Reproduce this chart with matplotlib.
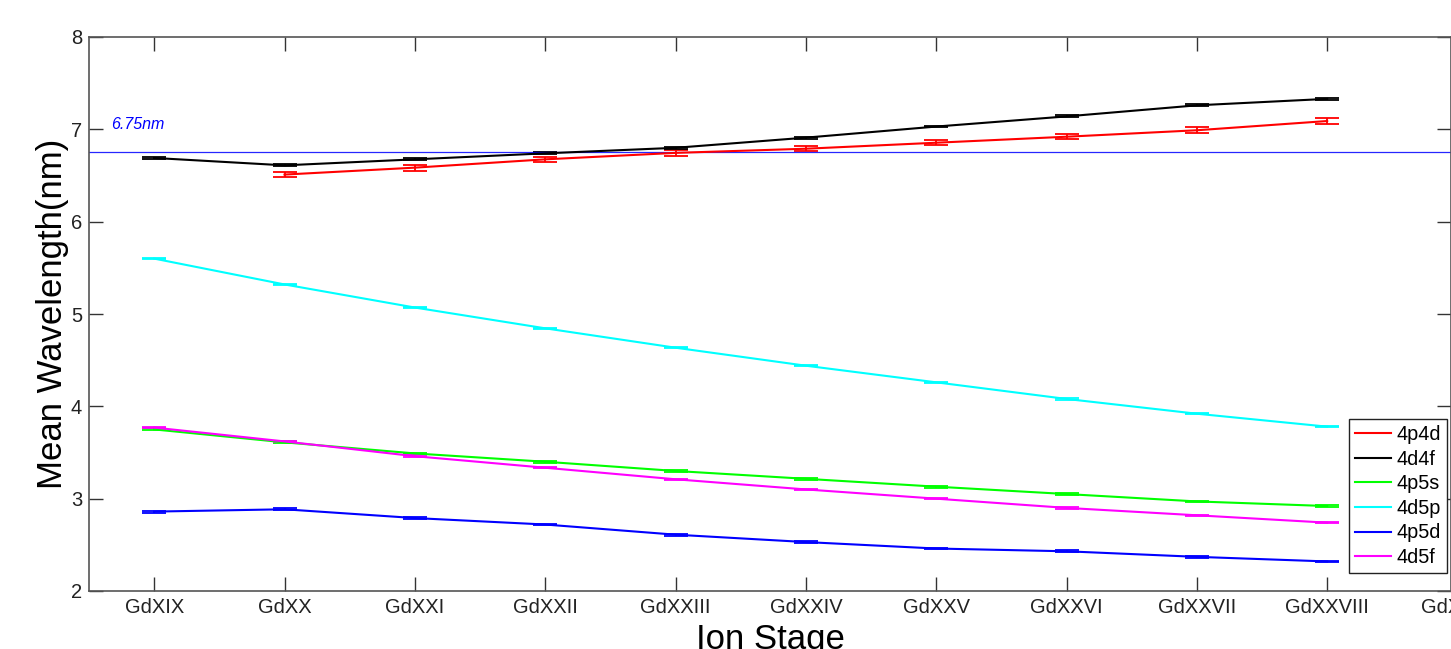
import matplotlib
matplotlib.use("Agg")
import matplotlib.pyplot as plt
import matplotlib.transforms as mtransforms
from matplotlib.lines import Line2D
import numpy as np

plt.rcParams['font.family'] = ['Liberation Sans', 'DejaVu Sans']

# ion stages on the x axis (1..10 plotted, 11 only as a cut-off tick label)
stages = ["GdXIX", "GdXX", "GdXXI", "GdXXII", "GdXXIII", "GdXXIV",
          "GdXXV", "GdXXVI", "GdXXVII", "GdXXVIII", "GdXXIX"]
x_all = np.arange(1, 11)

# mean wavelengths (nm)
p4d4_x = np.arange(2, 11)
p4d4 = [6.51, 6.585, 6.675, 6.745, 6.79, 6.855, 6.92, 6.99, 7.09]
p4d4_err = [0.027, 0.033, 0.029, 0.03, 0.025, 0.025, 0.025, 0.032, 0.036]

d4f4 = [6.69, 6.61, 6.675, 6.74, 6.80, 6.91, 7.03, 7.14, 7.26, 7.33]
d4f4_err = [0.01] * 10

p5s4 = [3.75, 3.61, 3.49, 3.40, 3.30, 3.215, 3.13, 3.05, 2.97, 2.92]
p5s4_err = [0.01] * 10

d5p4 = [5.60, 5.32, 5.07, 4.845, 4.635, 4.44, 4.26, 4.08, 3.92, 3.78]
d5p4_err = [0.008] * 10

p5d4 = [2.86, 2.885, 2.79, 2.72, 2.61, 2.53, 2.46, 2.43, 2.37, 2.32]
p5d4_err = [0.01] * 10

d5f4 = [3.77, 3.62, 3.46, 3.335, 3.21, 3.10, 3.00, 2.90, 2.82, 2.74]
d5f4_err = [0.008] * 10

ref_wavelength = 6.75

fig = plt.figure(figsize=(14.51, 6.49), dpi=100)
ax = fig.add_axes([89 / 1451, 58 / 649, 1 - 89 / 1451, 554 / 649])

series = [
    (p4d4_x, p4d4, p4d4_err, "#ff0000", "4p4d"),
    (x_all, d4f4, d4f4_err, "#000000", "4d4f"),
    (x_all, p5s4, p5s4_err, "#00ff00", "4p5s"),
    (x_all, d5p4, d5p4_err, "#00ffff", "4d5p"),
    (x_all, p5d4, p5d4_err, "#0000ff", "4p5d"),
    (x_all, d5f4, d5f4_err, "#ff00ff", "4d5f"),
]
handles = []
for xs, ys, es, col, name in series:
    ax.errorbar(xs, ys, yerr=es, color=col, lw=1.5, capsize=8.5,
                elinewidth=1.3, capthick=1.3)
    handles.append(Line2D([], [], color=col, lw=1.5, label=name))

ax.axhline(ref_wavelength, color="#0000ff", lw=0.9, alpha=0.85)
ax.text(0.67, 7.05, "6.75nm", color="#0000ff", fontsize=11.5,
        style="italic", va="center", ha="left")

ax.set_xlim(0.5, 10.95)
ax.set_ylim(2, 8)
ax.set_xticks(x_all)
ax.set_xticklabels(stages[:10])
ax.set_yticks(np.arange(2, 9))

# last stage label only partly visible at the cut right edge
trans = mtransforms.blended_transform_factory(ax.transData, ax.transAxes)
ax.text(11, -0.012, stages[10], transform=trans, ha="center", va="top",
        fontsize=14.5, color="#222222", clip_on=False)

ax.tick_params(direction="in", length=10, width=1, top=True, right=True,
               labelsize=14.5, labelcolor="#222222", color="#333333", pad=5)
for sp in ax.spines.values():
    sp.set_color("#555555")
    sp.set_linewidth(1.2)

ax.set_xlabel("Ion Stage", fontsize=25, labelpad=4)
ax.set_ylabel("Mean Wavelength(nm)", fontsize=25, labelpad=1)

leg = ax.legend(handles=handles, loc="lower right",
                bbox_to_anchor=(1447 / 1451, 76 / 649),
                bbox_transform=fig.transFigure, fontsize=14.3, handlelength=1.8,
                handletextpad=0.3, labelspacing=0.28, borderpad=0.3,
                borderaxespad=0, fancybox=False, framealpha=1,
                edgecolor="#222222")
leg.get_frame().set_linewidth(1.0)

fig.savefig("out.png", dpi=100)
